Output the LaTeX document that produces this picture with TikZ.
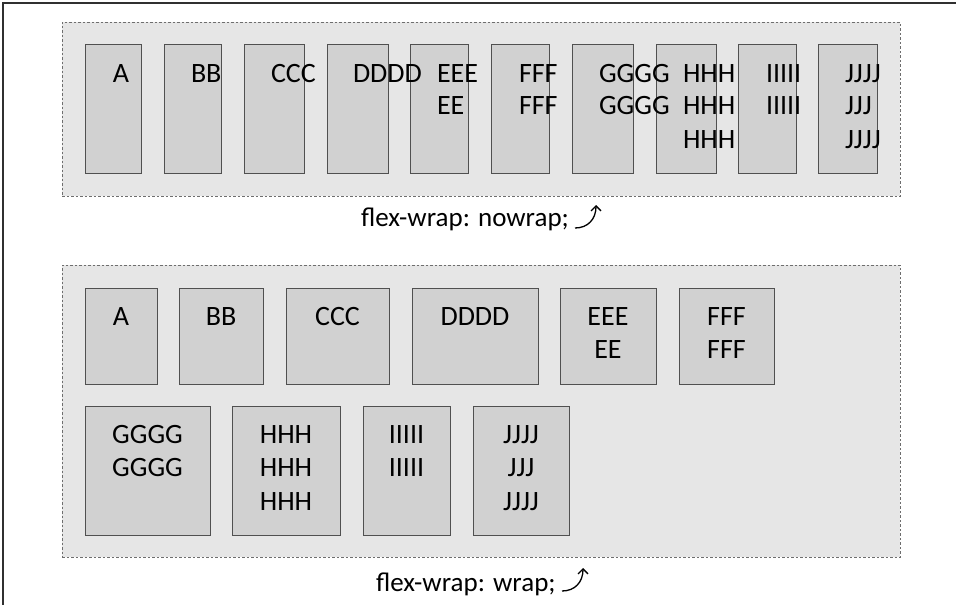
\documentclass[tikz,border=0pt]{standalone}
\usepackage{fontspec}
\setmainfont{Carlito}
\usetikzlibrary{arrows.meta}
\definecolor{outerfill}{HTML}{E6E6E6}
\definecolor{itemfill}{HTML}{D1D1D1}
\definecolor{itemline}{HTML}{505050}
\definecolor{dashline}{HTML}{6E6E6E}
\definecolor{frameline}{HTML}{303030}
\tikzset{
  container/.style={draw=dashline, fill=outerfill, line width=0.8pt, dash pattern=on 2.5pt off 2pt, inner sep=0pt, outer sep=0pt},
  itembox/.style={draw=itemline, fill=itemfill, line width=0.8pt, inner sep=0pt, outer sep=0pt},
  lbl/.style={inner sep=0pt, outer sep=0pt, font=\fontsize{28}{33}\selectfont, text=black},
  caption/.style={inner sep=0pt, outer sep=0pt, font=\fontsize{27}{31}\selectfont, text=black, anchor=base west},
  curvarrow/.style={draw=black, line width=1.3pt, -{Straight Barb[length=5pt, width=10pt, line width=1.3pt]}},
  frame/.style={draw=frameline, line width=1.4pt}
}
\newcommand{\fbx}[6]{\node[#1, minimum width={(#5-#3)*1pt}, minimum height={(#6-#4)*1pt}] (#2) at ({(#3+#5)/2},{(#4+#6)/2}) {};}
\begin{document}
\begin{tikzpicture}[x=1pt,y=-1pt]
\useasboundingbox (0,0) rectangle (956,605);
\draw[frame] (3,605) -- (3,3) -- (956,3);

% ---------- nowrap container ----------
\fbx{container}{nowrap}{62}{22}{900}{196}
\fbx{itembox}{nA}{85}{44}{141}{173}
\fbx{itembox}{nB}{164}{44}{221}{173}
\fbx{itembox}{nC}{244}{44}{304}{173}
\fbx{itembox}{nD}{327}{44}{388}{173}
\fbx{itembox}{nE}{410}{44}{468}{173}
\fbx{itembox}{nF}{491}{44}{549}{173}
\fbx{itembox}{nG}{572}{44}{633}{173}
\fbx{itembox}{nH}{656}{44}{716}{173}
\fbx{itembox}{nI}{738}{44}{796}{173}
\fbx{itembox}{nJ}{818}{44}{877}{173}

\node[lbl, anchor=base] (tnA1) at (121,82) {A};
\node[lbl, anchor=base west] (tnB1) at (191,82) {BB};
\node[lbl, anchor=base west] (tnC1) at (271,82) {CCC};
\node[lbl, anchor=base west] (tnD1) at (353,82) {DDDD};
\node[lbl, anchor=base west] (tnE1) at (437,82) {EEE};
\node[lbl, anchor=base west] (tnE2) at (437,114.5) {EE};
\node[lbl, anchor=base west] (tnF1) at (519,82) {FFF};
\node[lbl, anchor=base west] (tnF2) at (519,114.5) {FFF};
\node[lbl, anchor=base west] (tnG1) at (599,82) {GGGG};
\node[lbl, anchor=base west] (tnG2) at (599,114.5) {GGGG};
\node[lbl, anchor=base west] (tnH1) at (683,82) {HHH};
\node[lbl, anchor=base west] (tnH2) at (683,114.5) {HHH};
\node[lbl, anchor=base west] (tnH3) at (683,148) {HHH};
\node[lbl, anchor=base west] (tnI1) at (766,82) {IIIII};
\node[lbl, anchor=base west] (tnI2) at (766,114.5) {IIIII};
\node[lbl, anchor=base west] (tnJ1) at (845,82) {JJJJ};
\node[lbl, anchor=base west] (tnJ2) at (845,114.5) {JJJ};
\node[lbl, anchor=base west] (tnJ3) at (845,148) {JJJJ};

\node[caption] (capnowrap) at (361,226) {flex-wrap: nowrap;};
\coordinate (anS) at (575,228);
\coordinate (anE) at (596,205);
\draw[curvarrow] (anS) .. controls (588,228) and (596,219) .. (anE);

% ---------- wrap container ----------
\fbx{container}{wrap}{62}{265}{900}{557}
\fbx{itembox}{wA}{85}{288}{157}{384}
\fbx{itembox}{wB}{179}{288}{263}{384}
\fbx{itembox}{wC}{286}{288}{389}{384}
\fbx{itembox}{wD}{412}{288}{538}{384}
\fbx{itembox}{wE}{560}{288}{656}{384}
\fbx{itembox}{wF}{679}{288}{774}{384}
\fbx{itembox}{wG}{85}{406}{210}{535}
\fbx{itembox}{wH}{232}{406}{340}{535}
\fbx{itembox}{wI}{363}{406}{450}{535}
\fbx{itembox}{wJ}{473}{406}{569}{535}

\node[lbl, anchor=base] (twA1) at (wA.center |- 0,325) {A};
\node[lbl, anchor=base] (twB1) at (wB.center |- 0,325) {BB};
\node[lbl, anchor=base] (twC1) at (wC.center |- 0,325) {CCC};
\node[lbl, anchor=base] (twD1) at (wD.center |- 0,325) {DDDD};
\node[lbl, anchor=base] (twE1) at (wE.center |- 0,325) {EEE};
\node[lbl, anchor=base] (twE2) at (wE.center |- 0,358) {EE};
\node[lbl, anchor=base] (twF1) at (wF.center |- 0,325) {FFF};
\node[lbl, anchor=base] (twF2) at (wF.center |- 0,358) {FFF};
\node[lbl, anchor=base] (twG1) at (wG.center |- 0,443) {GGGG};
\node[lbl, anchor=base] (twG2) at (wG.center |- 0,476.5) {GGGG};
\node[lbl, anchor=base] (twH1) at (wH.center |- 0,443) {HHH};
\node[lbl, anchor=base] (twH2) at (wH.center |- 0,476.5) {HHH};
\node[lbl, anchor=base] (twH3) at (wH.center |- 0,510) {HHH};
\node[lbl, anchor=base] (twI1) at (wI.center |- 0,443) {IIIII};
\node[lbl, anchor=base] (twI2) at (wI.center |- 0,476.5) {IIIII};
\node[lbl, anchor=base] (twJ1) at (wJ.center |- 0,443) {JJJJ};
\node[lbl, anchor=base] (twJ2) at (wJ.center |- 0,476.5) {JJJ};
\node[lbl, anchor=base] (twJ3) at (wJ.center |- 0,510) {JJJJ};

\node[caption] (capwrap) at (376,591) {flex-wrap: wrap;};
\coordinate (awS) at (562,591);
\coordinate (awE) at (583,568);
\draw[curvarrow] (awS) .. controls (575,591) and (583,582) .. (awE);
\end{tikzpicture}
\end{document}
